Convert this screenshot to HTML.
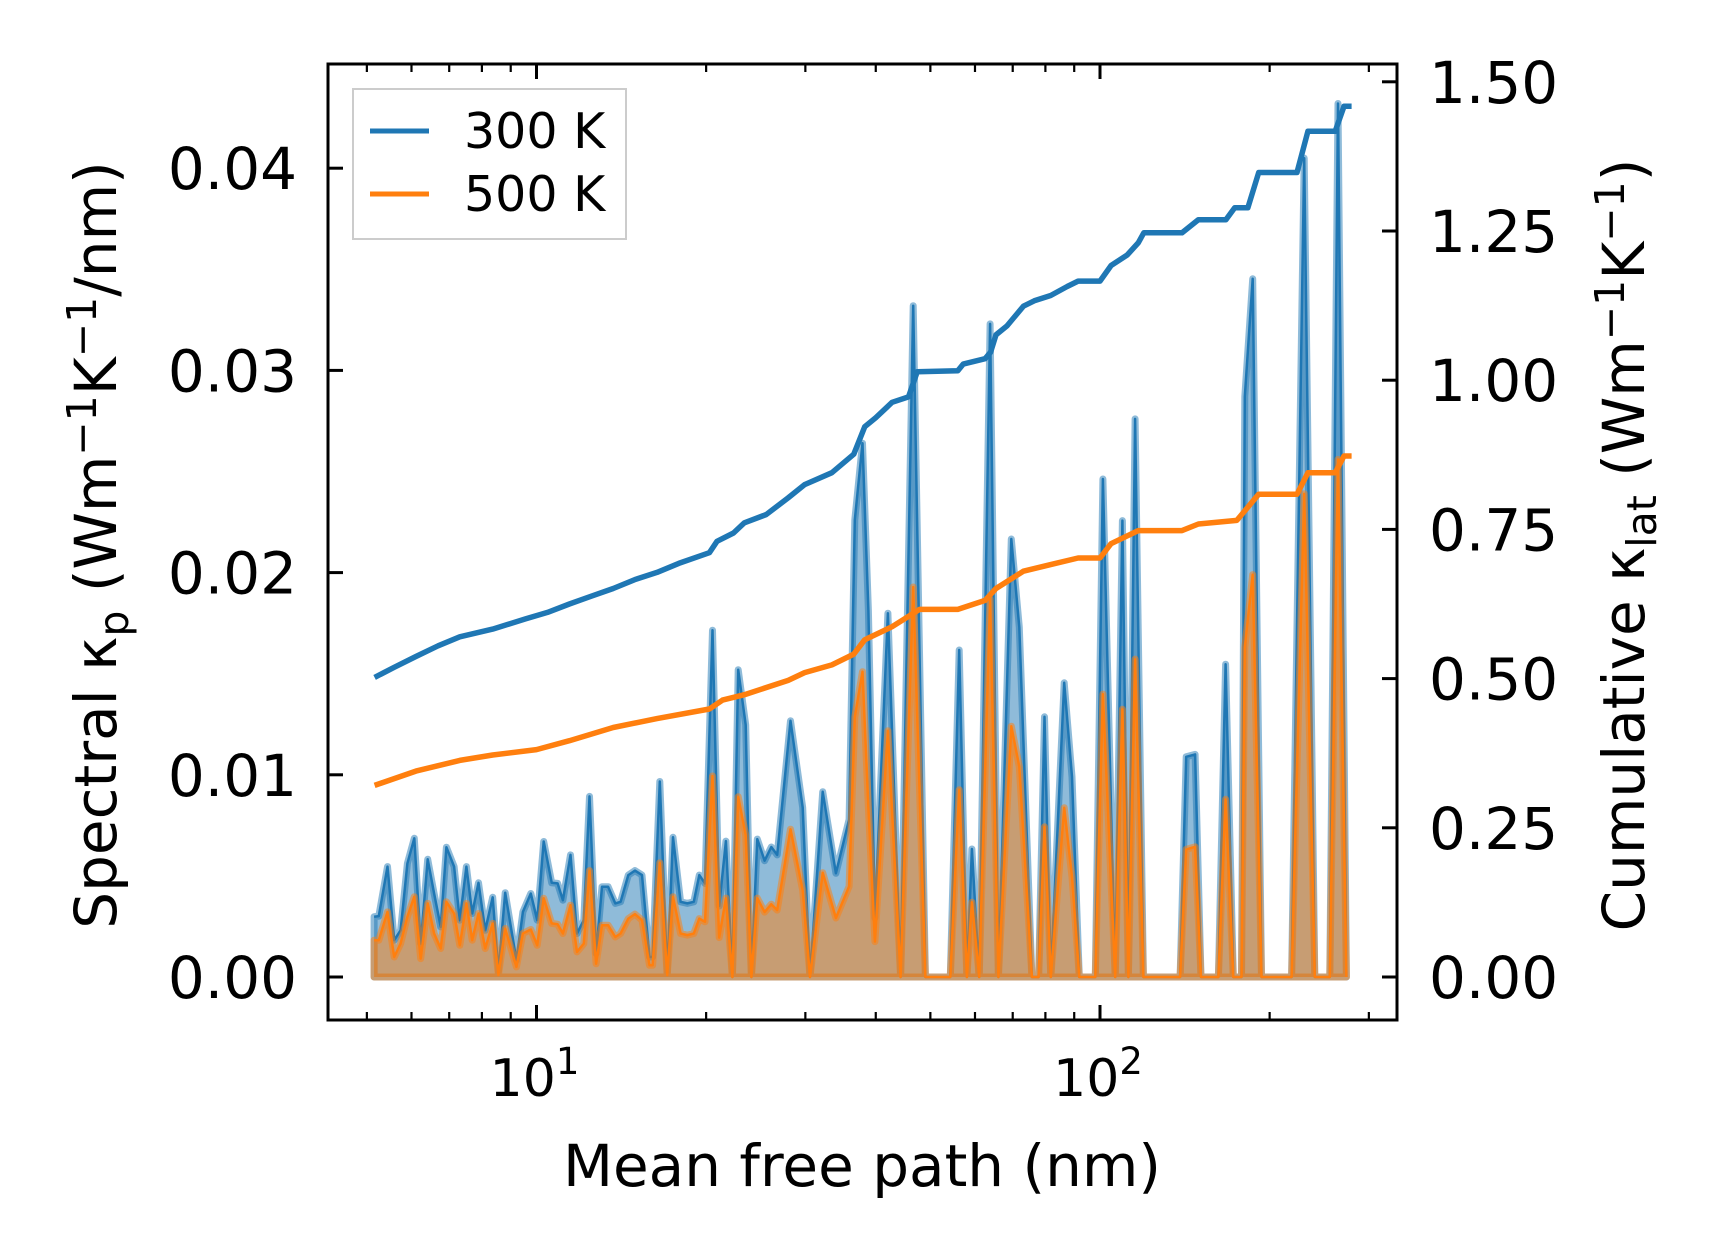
<!DOCTYPE html>
<html><head><meta charset="utf-8"><style>
html,body{margin:0;padding:0;background:#fff;}
svg{display:block;font-family:"DejaVu Sans","Liberation Sans",sans-serif;}
</style></head><body>
<svg id="chart" width="1716" height="1258" viewBox="0 0 1716 1258" xmlns="http://www.w3.org/2000/svg">
<rect width="1716" height="1258" fill="#fff"/>
<g id="plot"></g>
<g id="axes"></g>
<text x="862" y="1186" font-size="58" text-anchor="middle">Mean free path (nm)</text>
<text transform="translate(116,545) rotate(-90)" font-size="58" text-anchor="middle">Spectral κ<tspan font-size="41" dy="12">p</tspan><tspan dy="-12"> (Wm</tspan><tspan font-size="41" dy="-20">−1</tspan><tspan dy="20">K</tspan><tspan font-size="41" dy="-20">−1</tspan><tspan dy="20">/nm)</tspan></text>
<text transform="translate(1644,545) rotate(-90)" font-size="58" text-anchor="middle">Cumulative κ<tspan font-size="41" dy="12">lat</tspan><tspan dy="-12"> (Wm</tspan><tspan font-size="41" dy="-20">−1</tspan><tspan dy="20">K</tspan><tspan font-size="41" dy="-20">−1</tspan><tspan dy="20">)</tspan></text>
<g>
<rect x="353" y="89" width="273" height="150" fill="#fff" fill-opacity="0.8" stroke="#ccc" stroke-width="2"/>
<line x1="370" y1="131" x2="429" y2="131" stroke="#1f77b4" stroke-width="5"/>
<text x="464" y="148" font-size="49">300 K</text>
<line x1="370" y1="194" x2="429" y2="194" stroke="#ff7f0e" stroke-width="5"/>
<text x="464" y="211" font-size="49">500 K</text>
</g>
</svg>
<script>
const mfp = [5.15,5.25,5.44,5.59,5.74,5.90,6.07,6.23,6.41,6.58,6.76,6.92,7.14,7.31,7.51,7.69,7.89,8.11,8.36,8.56,8.80,9.21,9.46,9.77,10.03,10.30,10.64,10.90,11.14,11.49,11.80,12.13,12.42,12.76,13.07,13.40,13.80,14.10,14.55,14.95,15.39,15.87,16.07,16.55,17.06,17.47,18.02,18.52,19.02,19.45,19.91,
20.53,21.10,21.68,22.27,22.80,23.51,24.06,24.65,25.40,26.10,26.74,28.23,29.68,30.58,32.20,33.99,35.87,36.72,37.89,38.82,39.86,42.03,44.27,46.61,49.00,54.24,56.26,58.05,59.24,61.03,63.83,66.02,
69.6,71.9,75.7,77.8,79.7,81.8,86.4,89.2,91.9,95.2,98.1,101.2,106.4,109.6,112.3,115.4,119.4,138.7,142.2,147.5,151.1,162.2,167.1,172.4,178.3,180.7,186.6,193.5,218.8,230.3,240.5,255.7,264.5,273.7];
const k300 = [0.00298,0.00301,0.00546,0.00182,0.00231,0.00562,0.00686,0.00165,0.00582,0.00413,0.00248,0.00642,0.00546,0.00281,0.00546,0.00314,0.00466,0.00231,0.00394,0.00025,0.00417,0.00083,0.00322,0.00413,0.00281,0.00670,0.00466,0.00463,0.00380,0.00604,0.00215,0.00281,0.00893,0.00116,0.00446,0.00446,0.00364,0.00372,0.00504,0.00526,0.00504,0.00099,0.00099,0.00967,0.0001,0.00691,0.00372,0.00364,0.00372,0.00504,0.00463,
0.01715,0.00351,0.00672,0,0.01520,0.01247,0,0.00682,0.00575,0.00643,0.00604,0.01267,0.00838,0,0.00916,0.00513,0.00779,0.02260,0.02640,0.01812,0.00292,0.01799,0,0.0332,0,0,0.01617,0,0.00633,0,0.0323,0,
0.02166,0.0173,0,0,0.01287,0,0.01455,0.0099,0,0,0,0.02463,0,0.02257,0,0.0276,0,0,0.01089,0.01101,0,0,0.01547,0,0,0.0287,0.03453,0,0,0.0405,0,0,0.0432,0];
const k500 = [0.00182,0.00182,0.00322,0.00099,0.00165,0.00298,0.00397,0.00091,0.00364,0.00215,0.00141,0.00372,0.00314,0.00157,0.00364,0.00182,0.00314,0.00141,0.00265,0.0001,0.0024,0.0005,0.00215,0.00235,0.00157,0.00389,0.00265,0.00261,0.00215,0.00355,0.00124,0.00165,0.00526,0.00066,0.00256,0.00256,0.00198,0.00215,0.00289,0.00311,0.00281,0.00058,0.00058,0.00565,0.0001,0.00397,0.00215,0.00207,0.00215,0.00289,0.00273,
0.00994,0.00195,0.0039,0,0.00891,0.00702,0,0.0039,0.00321,0.0036,0.00331,0.00731,0.00429,0,0.00516,0.00292,0.00448,0.01286,0.0151,0.00838,0.00175,0.01218,0,0.01929,0,0,0.00926,0,0.0037,0,0.0187,0,
0.0124,0.0104,0,0,0.00743,0,0.00837,0.00495,0,0,0,0.01399,0,0.01324,0,0.01572,0,0,0.00631,0.00644,0,0,0.00879,0,0,0.0163,0.0199,0,0,0.0239,0,0,0.0256,0];
const cumX300 = [5.16,5.59,6.11,6.69,7.31,8.36,9.56,10.46,11.44,12.51,13.68,14.96,16.36,17.88,20.27,20.91,22.37,23.39,25.57,27.97,29.91,33.44,36.57,38.24,39.99,42.76,45.73,47.39,55.92,57.19,62.54,63.95,65.39,68.39,73.13,76.47,81.76,87.46,91.45,100,104.6,111.8,116.9,119.6,139.8,149.5,167.3,173.4,183.0,191.3,223.7,233.9,261.5,271.0,279.6];
const cum300 = [0.502,0.519,0.537,0.555,0.570,0.583,0.600,0.611,0.625,0.638,0.651,0.666,0.678,0.693,0.711,0.730,0.744,0.761,0.775,0.803,0.825,0.845,0.876,0.922,0.937,0.963,0.972,1.014,1.016,1.027,1.036,1.047,1.076,1.091,1.124,1.133,1.142,1.157,1.166,1.166,1.192,1.210,1.230,1.247,1.247,1.269,1.269,1.289,1.289,1.348,1.348,1.417,1.417,1.459,1.459];
const cumX500 = [5.16,6.11,7.31,8.36,10.0,11.44,13.68,16.36,20.27,21.38,23.39,27.97,29.91,33.44,36.57,38.24,42.76,47.82,55.92,62.54,65.39,73.13,81.76,91.45,100,104.6,116.9,139.8,149.5,174.9,191.3,223.7,233.9,261.5,271.0,279.6];
const cum500 = [0.321,0.345,0.363,0.372,0.381,0.396,0.418,0.433,0.449,0.464,0.473,0.497,0.510,0.523,0.541,0.565,0.587,0.616,0.616,0.631,0.651,0.680,0.691,0.702,0.702,0.726,0.748,0.748,0.759,0.765,0.809,0.809,0.845,0.845,0.873,0.873];
const leftTicks = [0,0.01,0.02,0.03,0.04];
const leftTickLabels = ["0.00","0.01","0.02","0.03","0.04"];
const rightTicks = [0,0.25,0.5,0.75,1.0,1.25,1.5];
const rightTickLabels = ["0.00","0.25","0.50","0.75","1.00","1.25","1.50"];
const xMajor = [10,100];
const xMinor = [5,6,7,8,9,20,30,40,50,60,70,80,90,200,300];

const L=328,R=1397,T=64,B=1020;
const X = m => 536.5 + (Math.log10(m)-1)*563.5;
const YL = v => 977 - v/0.01*202.2;
const YR = c => 977 - c/0.25*149.2;
const NS="http://www.w3.org/2000/svg";
const plot=document.getElementById('plot');
const axes=document.getElementById('axes');
function mk(tag,attrs,parent){const e=document.createElementNS(NS,tag);for(const k in attrs)e.setAttribute(k,attrs[k]);parent.appendChild(e);return e;}

function spectral(vals,color,name){
  let line='';
  for(let i=0;i<mfp.length;i++) line+=(i?'L':'M')+X(mfp[i]).toFixed(1)+','+YL(vals[i]).toFixed(1);
  const area=line+'L'+X(mfp[mfp.length-1]).toFixed(1)+','+YL(0)+'L'+X(mfp[0]).toFixed(1)+','+YL(0)+'Z';
  const a=mk('path',{d:area,fill:color,'fill-opacity':0.5,stroke:color,'stroke-opacity':0.5,'stroke-width':7,'stroke-linejoin':'round'},plot);
  
  
  const l=mk('path',{d:line,fill:'none',stroke:color,'stroke-width':2.5,'stroke-linejoin':'round'},plot);
  
  
}
spectral(k300,'#1f77b4','spectral-300k');
spectral(k500,'#ff7f0e','spectral-500k');

function cumLine(xs,vals,color,name){
  let d='';
  for(let i=0;i<xs.length;i++) d+=(i?'L':'M')+X(xs[i]).toFixed(1)+','+YR(vals[i]).toFixed(1);
  const p=mk('path',{d:d,fill:'none',stroke:color,'stroke-width':5.5,'stroke-linejoin':'round'},plot);
  
  
}
cumLine(cumX300,cum300,'#1f77b4','cumulative-300k-line');
cumLine(cumX500,cum500,'#ff7f0e','cumulative-500k-line');

const frame=mk('rect',{x:L,y:T,width:R-L,height:B-T,fill:'none',stroke:'#000','stroke-width':3},axes);



leftTicks.forEach((v,i)=>{
  const y=YL(v);
  const t=mk('line',{x1:L,y1:y,x2:L+15,y2:y,stroke:'#000','stroke-width':3},axes);
  
  
  const lb=mk('text',{x:297,y:y+21,'font-size':58,'text-anchor':'end'},axes);
  lb.textContent=leftTickLabels[i];
  
  
});
rightTicks.forEach((v,i)=>{
  const y=YR(v);
  const t=mk('line',{x1:R-15,y1:y,x2:R,y2:y,stroke:'#000','stroke-width':3},axes);
  
  
  const lb=mk('text',{x:1429,y:y+21,'font-size':58,'text-anchor':'start'},axes);
  lb.textContent=rightTickLabels[i];
  
  
});
xMajor.forEach(m=>{
  const x=X(m);
  [[B,B-15],[T,T+15]].forEach(p=>{
    const t=mk('line',{x1:x,y1:p[0],x2:x,y2:p[1],stroke:'#000','stroke-width':3},axes);
    
    
  });
  const lb=mk('text',{x:x-2,y:1096,'font-size':52,'text-anchor':'middle'},axes);
  
  
  const ex=Math.round(Math.log10(m));
  lb.innerHTML='10<tspan font-size="37" dy="-22">'+ex+'</tspan>';
});
xMinor.forEach(m=>{
  const x=X(m);
  if(x<L||x>R) return;
  [[B,B-8],[T,T+8]].forEach(p=>{
    const t=mk('line',{x1:x,y1:p[0],x2:x,y2:p[1],stroke:'#000','stroke-width':2.2},axes);
    
    
  });
});
</script>
</body></html>
